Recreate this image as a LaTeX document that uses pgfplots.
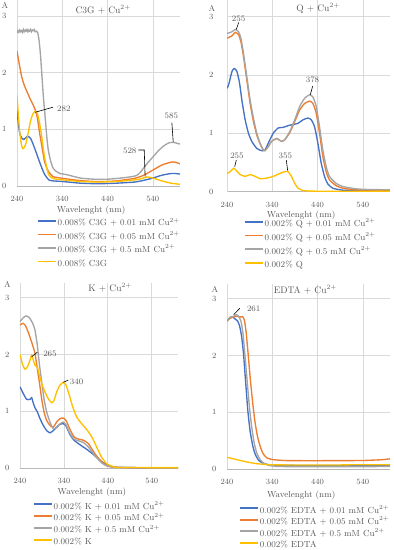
\documentclass[border=0pt]{standalone}
\usepackage{pgfplots}
\pgfplotsset{compat=1.18}
\definecolor{cBlue}{HTML}{4472C4}
\definecolor{cOrange}{HTML}{ED7D31}
\definecolor{cGray}{HTML}{A5A5A5}
\definecolor{cYellow}{HTML}{FFC000}
\definecolor{txt}{HTML}{595959}
\newcommand{\cu}{Cu\textsuperscript{2+}}
\tikzset{
  ann/.style={font=\fontsize{8.4}{10}\selectfont, text=txt, inner sep=1pt},
  lead/.style={draw=black, line width=0.6pt},
}
\pgfplotsset{
  uv/.style={
    scale only axis, xmin=240, xmax=600, ymin=0,
    xtick={240,340,440,540}, ytick={0,1,2,3},
    axis x line*=bottom, axis y line*=left,
    x axis line style={-, draw=black!28, line width=0.7pt},
    y axis line style={-, draw=black!15, line width=0.6pt},
    grid=major, major grid style={draw=black!15, line width=0.6pt},
    major tick length=0pt,
    tick label style={font=\fontsize{8}{9}\selectfont, text=txt},
    xticklabel style={yshift=-7pt},
    yticklabel style={xshift=-7pt},
    xlabel={Wavelenght (nm)},
    xlabel style={font=\fontsize{8.8}{10}\selectfont, text=txt, at={(axis description cs:0.455,0)}, anchor=center},
    ylabel={A},
    ylabel style={font=\fontsize{8.5}{10}\selectfont, text=txt, rotate=-90, anchor=center},
    every axis title/.style={font=\fontsize{9.5}{11}\selectfont, text=txt, anchor=center},
    clip mode=individual,
    every axis plot/.append style={line width=1.35pt, smooth, tension=0.35, no markers},
    legend cell align=left,
    legend image code/.code={\draw[#1, line width=1.7pt] (0pt,0pt) -- (18pt,0pt);},
    legend style={draw=none, fill=none, inner sep=0pt, outer sep=0pt, anchor=north west,
      font=\fontsize{8.8}{10}\selectfont, text=txt,
      nodes={inner sep=1pt, text height=6pt, text depth=1.5pt, yshift=-2.5pt}},
  },
}
\begin{document}
\begin{tikzpicture}
\useasboundingbox (0pt,0pt) rectangle (394pt,-550pt);

% ---------------- Panel 1: C3G
\begin{axis}[uv, at={(17pt,-186pt)}, anchor=south west, width=163pt, height=186pt, ymax=3.28,
  title={C3G + \cu}, title style={at={(axis description cs:0.528,0.946)}},
  ylabel style={at={(axis description cs:-0.074,0.968)}},
  xlabel style={yshift=-24pt},
  legend style={at={(axis description cs:0.123,-0.177)}, row sep=3.9pt}]
\addplot[cBlue] coordinates {(240,1.35)(243,1.1)(246,0.93)(250,0.85)(255,0.82)(258,0.84)(262,0.87)(266,0.87)(270,0.84)(275,0.75)(282,0.6)(290,0.42)(300,0.22)(310,0.11)(320,0.09)(340,0.08)(380,0.05)(420,0.04)(460,0.05)(500,0.07)(520,0.1)(540,0.14)(560,0.19)(580,0.22)(590,0.22)(600,0.21)};
\addplot[cOrange] coordinates {(240,2.38)(245,2.15)(250,1.94)(255,1.8)(260,1.7)(265,1.61)(270,1.52)(275,1.44)(280,1.35)(285,1.2)(290,0.93)(295,0.70)(300,0.46)(305,0.33)(310,0.25)(320,0.165)(340,0.136)(380,0.095)(420,0.077)(460,0.09)(500,0.136)(520,0.19)(540,0.28)(560,0.37)(580,0.42)(590,0.42)(600,0.39)};
\addplot[cGray] coordinates {(240,2.70)(242,2.74)(244,2.71)(246,2.75)(248,2.72)(250,2.74)(252,2.71)(254,2.76)(256,2.72)(258,2.75)(260,2.73)(262,2.76)(264,2.72)(266,2.75)(268,2.73)(270,2.76)(272,2.72)(274,2.75)(276,2.74)(278,2.76)(280,2.72)(283,2.73)(286,2.70)(289,2.55)(292,2.3)(295,1.95)(298,1.6)(302,1.23)(306,0.85)(309,0.64)(314,0.45)(320,0.31)(328,0.25)(335,0.22)(350,0.2)(380,0.14)(410,0.12)(440,0.12)(470,0.14)(497,0.17)(505,0.19)(512,0.24)(520,0.32)(530,0.42)(541,0.52)(552,0.62)(563,0.70)(575,0.76)(585,0.77)(595,0.75)(600,0.74)};
\addplot[cYellow] coordinates {(240,1.6)(243,1.25)(246,0.95)(250,0.72)(253,0.66)(256,0.68)(260,0.76)(265,0.95)(270,1.15)(275,1.27)(280,1.32)(285,1.28)(290,1.1)(295,0.85)(300,0.55)(305,0.35)(310,0.2)(320,0.13)(340,0.11)(380,0.08)(420,0.07)(460,0.08)(490,0.1)(510,0.12)(528,0.16)(540,0.14)(560,0.09)(580,0.05)(600,0.03)};
\legend{0.008\% C3G + 0.01 mM \cu, 0.008\% C3G + 0.05 mM \cu, 0.008\% C3G + 0.5 mM \cu, 0.008\% C3G}
\draw[lead] (axis cs:280,1.3) -- (axis cs:319.5,1.39);
\node[ann, anchor=west] at (axis cs:326,1.37) {282};
\draw[lead] (axis cs:582,1.12) -- (axis cs:585,0.78);
\node[ann] at (axis cs:581,1.235) {585};
\draw[lead] (axis cs:508,0.635) -- (axis cs:521,0.635) -- (axis cs:523,0.164);
\node[ann] at (axis cs:489,0.62) {528};
\end{axis}

% ---------------- Panel 2: Q
\begin{axis}[uv, at={(227pt,-191.5pt)}, anchor=south west, width=163pt, height=191.5pt, ymax=3.285,
  title={Q + \cu}, title style={at={(axis description cs:0.558,0.958)}},
  ylabel style={at={(axis description cs:-0.092,0.958)}},
  yticklabel style={xshift=-3pt},
  xlabel style={yshift=-24pt},
  legend style={at={(axis description cs:0.104,-0.147)}, row sep=4.2pt}]
\addplot[cBlue] coordinates {(240,1.77)(243.6,1.83)(251,2.06)(256,2.11)(261.9,2.06)(267.7,1.86)(272.8,1.57)(280.1,1.23)(287.4,1.0)(294.7,0.86)(305.7,0.74)(316.6,0.70)(323.9,0.71)(331.2,0.83)(342.2,1.0)(353.1,1.09)(364.1,1.1)(375,1.13)(386,1.15)(396.9,1.17)(407.9,1.23)(418.8,1.26)(426.1,1.23)(433.4,1.11)(440.7,0.83)(448,0.49)(455.3,0.26)(462.6,0.13)(473.6,0.057)(495.5,0.023)(540,0.012)(600,0.01)};
\addplot[cOrange] coordinates {(240,2.63)(251,2.67)(258.2,2.73)(265.5,2.69)(270.7,2.57)(276.5,2.31)(283.8,1.91)(291.1,1.51)(298.4,1.2)(305.7,0.97)(313,0.82)(320.3,0.71)(323.9,0.70)(331.2,0.77)(338.5,0.86)(349.5,0.91)(360.4,0.86)(367.7,0.89)(378.7,1.01)(389.6,1.2)(400.6,1.4)(411.5,1.51)(422.5,1.55)(429.8,1.51)(437.1,1.34)(444.4,1.0)(451.7,0.6)(459,0.34)(466.3,0.2)(480.9,0.1)(495.5,0.057)(524.7,0.03)(600,0.02)};
\addplot[cGray] coordinates {(240,2.71)(243.6,2.72)(251,2.74)(258.2,2.78)(265.5,2.74)(270.7,2.63)(276.5,2.37)(283.8,1.97)(291.1,1.57)(298.4,1.26)(305.7,1.0)(313,0.83)(320.3,0.71)(323.9,0.70)(331.2,0.77)(338.5,0.86)(349.5,0.91)(360.4,0.86)(367.7,0.89)(378.7,1.03)(389.6,1.23)(400.6,1.46)(411.5,1.6)(422.5,1.66)(429.8,1.62)(437.1,1.46)(444.4,1.11)(451.7,0.71)(459,0.43)(466.3,0.26)(480.9,0.14)(495.5,0.086)(524.7,0.046)(553.9,0.034)(600,0.03)};
\addplot[cYellow] coordinates {(240,0.31)(247.3,0.34)(254.6,0.4)(260.4,0.36)(269.2,0.29)(280.1,0.26)(291.1,0.29)(302,0.26)(313,0.22)(327.6,0.23)(342.2,0.26)(356.8,0.31)(367.7,0.34)(375,0.34)(382.3,0.26)(389.6,0.14)(396.9,0.057)(407.9,0.017)(429.8,0.006)(500,0.005)(600,0.005)};
\legend{0.002\% Q + 0.01 mM \cu, 0.002\% Q + 0.05 mM \cu, 0.002\% Q + 0.5 mM \cu, 0.002\% Q}
\draw[lead] (axis cs:265.8,2.9) -- (axis cs:260.6,2.78);
\node[ann] at (axis cs:265.8,2.97) {255};
\draw[lead] (axis cs:429.3,1.81) -- (axis cs:424,1.66);
\node[ann] at (axis cs:428.8,1.91) {378};
\draw[lead] (axis cs:260.6,0.54) -- (axis cs:257,0.425);
\node[ann] at (axis cs:262,0.61) {255};
\draw[lead] (axis cs:371,0.54) -- (axis cs:374,0.357);
\node[ann] at (axis cs:368.8,0.61) {355};
\end{axis}

% ---------------- Panel 3: K
\begin{axis}[uv, at={(20pt,-468pt)}, anchor=south west, width=158pt, height=185pt, ymax=3.26,
  title={K + \cu}, title style={at={(axis description cs:0.57,0.973)}},
  ylabel style={at={(axis description cs:-0.08,0.99)}},
  xlabel style={yshift=-24pt},
  legend style={at={(axis description cs:0.082,-0.184)}, row sep=2.4pt}]
\addplot[cBlue] coordinates {(240,1.43)(247.6,1.31)(255.2,1.21)(262.8,1.21)(266.6,1.24)(270.4,1.14)(274.2,1.06)(279.5,0.99)(285.6,0.87)(293.2,0.75)(300.7,0.66)(308.3,0.62)(315.9,0.66)(323.5,0.72)(331.1,0.77)(338.7,0.78)(344.8,0.74)(353.9,0.59)(363,0.49)(376.7,0.41)(391.9,0.33)(407,0.24)(422.2,0.135)(437.4,0.06)(452.6,0.018)(500,0.006)(600,0.005)};
\addplot[cOrange] coordinates {(240,2.52)(247.6,2.55)(253.7,2.49)(261.3,2.34)(268.9,2.16)(274.2,2.02)(279.5,1.75)(284,1.52)(289.4,1.22)(294.7,0.99)(300.7,0.84)(308.3,0.75)(315.9,0.72)(323.5,0.81)(331.1,0.87)(338.7,0.88)(344.8,0.84)(353.9,0.68)(363,0.55)(372.9,0.51)(384.3,0.49)(395.7,0.43)(410.8,0.25)(426,0.11)(438.9,0.035)(456.4,0.012)(500,0.006)(600,0.005)};
\addplot[cGray] coordinates {(240,2.58)(247.6,2.65)(253.7,2.68)(261.3,2.65)(268.9,2.55)(274.2,2.43)(279.5,2.16)(284,1.84)(289.4,1.52)(294.7,1.22)(300.7,0.99)(308.3,0.81)(315.9,0.69)(323.5,0.71)(331.1,0.78)(338.7,0.81)(344.8,0.76)(353.9,0.61)(363,0.51)(372.9,0.48)(384.3,0.45)(395.7,0.37)(410.8,0.22)(426,0.09)(438.9,0.035)(456.4,0.012)(500,0.006)(600,0.005)};
\addplot[cYellow] coordinates {(240,2.0)(246.1,1.82)(251.4,1.74)(256.7,1.78)(262.8,1.9)(266.6,1.99)(270.4,1.9)(274.2,1.81)(279.5,1.78)(284,1.64)(289.4,1.49)(296.9,1.34)(304.5,1.22)(312.1,1.15)(317.4,1.19)(323.5,1.34)(331.1,1.46)(338.7,1.51)(344.8,1.46)(352.4,1.28)(360,1.08)(369.1,0.9)(380.5,0.78)(391.9,0.68)(403.3,0.55)(414.6,0.37)(426,0.19)(437.4,0.076)(452.6,0.024)(467.8,0.01)(600,0.006)};
\legend{0.002\% K + 0.01 mM \cu, 0.002\% K + 0.05 mM \cu, 0.002\% K + 0.5 mM \cu, 0.002\% K}
\draw[lead] (axis cs:266.6,1.96) -- (axis cs:279.4,2.04);
\node[ann] at (axis cs:308.3,2.02) {265};
\draw[lead] (axis cs:338.7,1.51) -- (axis cs:350,1.55);
\node[ann] at (axis cs:369,1.52) {340};
\end{axis}

% ---------------- Panel 4: EDTA
\begin{axis}[uv, at={(227pt,-469pt)}, anchor=south west, width=163pt, height=185pt, ymax=3.26,
  title={EDTA + \cu}, title style={at={(axis description cs:0.48,0.968)}},
  ylabel style={at={(axis description cs:-0.074,0.968)}},
  xlabel style={yshift=-26pt},
  legend style={at={(axis description cs:0.074,-0.2)}, row sep=2pt}]
\addplot[cBlue] coordinates {(240,2.61)(247.3,2.66)(253.2,2.68)(258.3,2.64)(263.4,2.61)(267.8,2.52)(272.2,2.34)(276.6,2.02)(281,1.55)(286.1,1.02)(291.2,0.66)(297.1,0.4)(302.9,0.25)(310.2,0.15)(319,0.106)(331.4,0.076)(364.4,0.065)(466.8,0.06)(600,0.065)};
\addplot[cOrange] coordinates {(240,2.61)(247.3,2.66)(254.6,2.68)(261.9,2.69)(269.3,2.68)(275.1,2.68)(278.8,2.61)(282.4,2.4)(286.1,2.08)(291.2,1.61)(297.1,1.14)(302.2,0.81)(308,0.55)(314.6,0.37)(320.5,0.26)(329.2,0.19)(342.4,0.165)(364.4,0.15)(393.6,0.147)(466.8,0.147)(539.9,0.15)(583.8,0.165)(600,0.18)};
\addplot[cGray] coordinates {(240,2.61)(247.3,2.68)(254.6,2.69)(260.5,2.72)(265.6,2.69)(270.7,2.61)(275.1,2.4)(278.8,2.08)(283.9,1.61)(289.7,1.08)(294.9,0.72)(300,0.46)(305.8,0.28)(313.2,0.165)(320.5,0.106)(331.4,0.065)(349.7,0.047)(393.6,0.04)(539.9,0.04)(600,0.047)};
\addplot[cYellow] coordinates {(240,0.206)(261.9,0.165)(283.9,0.124)(305.8,0.094)(335.1,0.076)(393.6,0.07)(466.8,0.07)(539.9,0.076)(600,0.076)};
\legend{0.002\% EDTA + 0.01 mM \cu, 0.002\% EDTA + 0.05 mM \cu, 0.002\% EDTA + 0.5 mM \cu, 0.002\% EDTA}
\draw[lead] (axis cs:254.8,2.72) -- (axis cs:268,2.83);
\node[ann] at (axis cs:299,2.83) {261};
\end{axis}
\end{tikzpicture}
\end{document}
